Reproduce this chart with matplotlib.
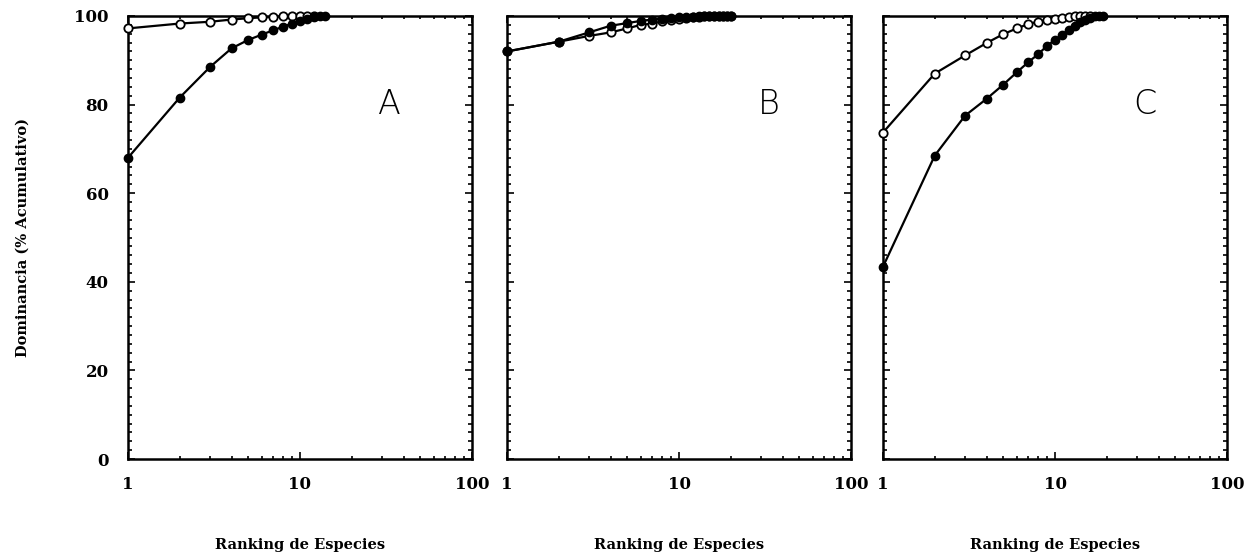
import matplotlib.pyplot as plt
from matplotlib.ticker import FixedLocator, MultipleLocator

# cumulative dominance (%) by species rank
a_filled = [68, 81.6, 88.5, 92.7, 94.6, 95.8, 96.8, 97.6, 98.3, 98.9, 99.4, 99.7, 99.9, 100]
a_open = [97.2, 98.3, 98.7, 99.2, 99.5, 99.7, 99.8, 99.9, 100, 100, 100, 100]
b_filled = [92, 94.2, 96.3, 97.8, 98.4, 98.9, 99.2, 99.4, 99.6, 99.7,
            99.8, 99.85, 99.9, 99.95, 100, 100, 100, 100, 100, 100]
b_open = [92, 94.2, 95.5, 96.3, 97.2, 98.0, 98.3, 98.8, 99.1, 99.4,
          99.6, 99.7, 99.8, 99.9, 100, 100, 100, 100, 100, 100]
c_filled = [43.4, 68.5, 77.5, 81.3, 84.5, 87.3, 89.6, 91.4, 93.3, 94.6,
            95.8, 96.9, 97.8, 98.6, 99.2, 99.6, 99.9, 100, 100]
c_open = [73.7, 87, 91.1, 93.9, 95.9, 97.2, 98.2, 98.7, 99.1, 99.4,
          99.6, 99.8, 99.9, 100, 100, 100]

panels = [("A", a_filled, a_open), ("B", b_filled, b_open), ("C", c_filled, c_open)]
x_ticks = [1, 10, 100]
y_ticks = [0, 20, 40, 60, 80, 100]

fig = plt.figure(figsize=(12.45, 5.57), dpi=100)
lefts = [128, 507, 883]
W, H = 1245, 557
bottom_px, top_px = 459, 16

tick_font = dict(family="DejaVu Serif", weight="bold", size=12)

for i, (name, filled, opn) in enumerate(panels):
    ax = fig.add_axes([lefts[i] / W, (H - bottom_px) / H, 344 / W, (bottom_px - top_px) / H])
    r_f = list(range(1, len(filled) + 1))
    r_o = list(range(1, len(opn) + 1))
    ax.plot(r_o, opn, "-", color="black", lw=1.6, marker="o", ms=6,
            mfc="white", mec="black", mew=1.3, clip_on=False, zorder=3)
    ax.plot(r_f, filled, "-", color="black", lw=1.6, marker="o", ms=6,
            mfc="black", mec="black", clip_on=False, zorder=4)
    ax.set_xscale("log")
    ax.set_xlim(1, 100)
    ax.set_ylim(0, 100)
    ax.xaxis.set_major_locator(FixedLocator(x_ticks))
    ax.yaxis.set_major_locator(FixedLocator(y_ticks))
    ax.yaxis.set_minor_locator(MultipleLocator(2))
    ax.tick_params(which="both", direction="in", top=True, right=True, width=1.2)
    ax.tick_params(which="major", length=5)
    ax.tick_params(which="minor", length=3)
    ax.tick_params(axis="x", which="minor", length=2)
    ax.tick_params(axis="x", which="major", pad=12)
    ax.tick_params(axis="y", which="major", pad=14)
    ax.set_xticklabels([str(t) for t in x_ticks], fontdict=tick_font)
    if i == 0:
        ax.set_yticklabels([str(t) for t in y_ticks], fontdict=tick_font)
        ax.set_ylabel("Dominancia (% Acumulativo)", family="DejaVu Serif",
                      weight="bold", size=10.5, labelpad=32)
    else:
        ax.set_yticklabels([])
    ax.set_xlabel("Ranking de Especies", family="DejaVu Serif", weight="bold",
                  size=10.5, labelpad=33)
    for s in ax.spines.values():
        s.set_linewidth(1.8)
    ax.text(0.76, 0.80, name, transform=ax.transAxes, fontsize=24,
            ha="center", va="center", fontweight="light")

plt.savefig("out.png", dpi=100)
